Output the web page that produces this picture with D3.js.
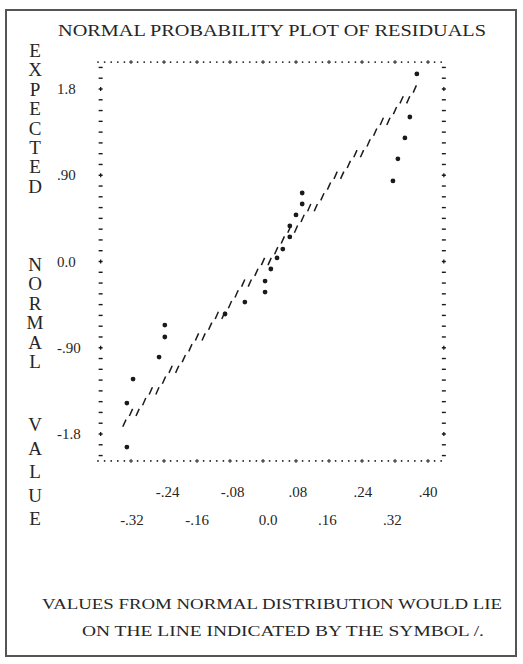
<!DOCTYPE html>
<html>
<head>
<meta charset="utf-8">
<script src="https://cdn.jsdelivr.net/npm/d3@7"></script>
<style>
  html, body { margin: 0; padding: 0; background: #fff; }
  svg { display: block; }
  text { font-family: "Liberation Serif", "DejaVu Serif", serif; fill: #262626; }
</style>
</head>
<body>
<svg id="chart" width="523" height="664"></svg>
<script>
// residuals (x) and their expected normal values (y)
const residuals = [-0.330, -0.330, -0.315, -0.252, -0.238, -0.238, -0.092, -0.044,
  0.005, 0.005, 0.019, 0.034, 0.048, 0.065, 0.065, 0.080, 0.095, 0.095,
  0.315, 0.327, 0.344, 0.356, 0.373];
const expected = [-1.936, -1.477, -1.227, -0.997, -0.788, -0.663, -0.548, -0.423,
  -0.319, -0.204, -0.078, 0.037, 0.130, 0.256, 0.371, 0.486, 0.600, 0.715,
  0.841, 1.071, 1.289, 1.508, 1.957];

// x tick labels are printed on two staggered rows
const xTicksUpper = [-0.24, -0.08, 0.08, 0.24, 0.40];
const xLabelsUpper = ['-.24', '-.08', '.08', '.24', '.40'];
const xTicksLower = [-0.32, -0.16, 0.0, 0.16, 0.32];
const xLabelsLower = ['-.32', '-.16', '0.0', '.16', '.32'];
const yTicks = [1.8, 0.9, 0.0, -0.9, -1.8];
const yLabels = ['1.8', '.90', '0.0', '-.90', '-1.8'];

// reference line drawn with "/": residual = lineMean + lineSd * z
const lineMean = 0.006;
const lineSd = 0.2;
const lineZExtent = [-1.72, 1.86];

const title = 'NORMAL PROBABILITY PLOT OF RESIDUALS';
const yTitleWords = ['EXPECTED', 'NORMAL', 'VALUE'];
const note = ['VALUES FROM NORMAL DISTRIBUTION WOULD LIE', 'ON THE LINE INDICATED BY THE SYMBOL /.'];

const svg = d3.select('#chart');
const ink = '#1a1a1a';

const x = d3.scaleLinear().domain([-0.32, 0.40]).range([131, 428]);
const y = d3.scaleLinear().domain([-1.8, 1.8]).range([434, 89]);
// the printed tick labels sit on a slightly tighter pitch than the plot columns
const xLabel = d3.scaleLinear().domain([-0.32, 0.40]).range([132, 425]);

// line printer grid: 5 columns per x tick, 8 rows per y tick
const colW = (x(0.08) - x(0)) / 5;
const rowUnit = 0.9 / 8;
const rowH = y(0) - y(rowUnit);

const topY = y(0) - 18.5 * rowH;
const bottomY = y(0) + 18.5 * rowH;
const leftX = x(-0.32) - 4.6 * colW;
const rightX = x(0.40) + 2.4 * colW;

// outer frame of the page
svg.append('rect')
  .attr('x', 6).attr('y', 10)
  .attr('width', 510).attr('height', 646)
  .attr('fill', 'none')
  .attr('stroke', '#555')
  .attr('stroke-width', 2);

svg.append('text')
  .attr('x', 272).attr('y', 36)
  .attr('text-anchor', 'middle')
  .attr('font-size', 17)
  .attr('textLength', 428)
  .attr('lengthAdjust', 'spacingAndGlyphs')
  .text(title);

// vertical y title, one letter per line; each word has its own start and pitch
const wordStart = [50, 264, 424];
const wordPitch = [19.4, 19.4, 23.5];
const yTitleLetters = yTitleWords.flatMap((w, wi) =>
  w.split('').map((ch, i) => ({ ch, ly: wordStart[wi] + i * wordPitch[wi] })));

svg.append('g')
  .selectAll('text')
  .data(yTitleLetters)
  .join('text')
    .attr('x', 35)
    .attr('y', d => d.ly + 7)
    .attr('text-anchor', 'middle')
    .attr('font-size', 19)
    .text(d => d.ch);

// dotted top / bottom borders with + at the ticks
const cols = d3.range(-5, 48);
const frame = svg.append('g').attr('fill', ink).attr('stroke', ink);

[topY, bottomY].forEach(by => {
  cols.forEach(k => {
    const cx = x(-0.32) + k * colW;
    if (k % 5 === 0 && k >= 0 && k <= 45) {
      frame.append('path')
        .attr('d', `M${cx - 2},${by}h4M${cx},${by - 2}v4`)
        .attr('stroke-width', 1);
    } else {
      frame.append('circle')
        .attr('cx', cx).attr('cy', by).attr('r', 0.9)
        .attr('stroke', 'none');
    }
  });
});

// dashed left / right borders with + at the ticks
const rows = d3.range(-18, 19);
[leftX, rightX].forEach(bx => {
  rows.forEach(k => {
    const cy = y(k * rowUnit);
    if (k % 8 === 0) {
      frame.append('path')
        .attr('d', `M${bx - 2},${cy}h4M${bx},${cy - 2}v4`)
        .attr('stroke-width', 1.3);
    } else {
      frame.append('path')
        .attr('d', `M${bx - 2},${cy}h4`)
        .attr('stroke-width', 1.4);
    }
  });
});

// y tick labels
svg.append('g')
  .selectAll('text')
  .data(yTicks)
  .join('text')
    .attr('x', 57)
    .attr('y', d => y(d) + 5)
    .attr('font-size', 15)
    .text((d, i) => yLabels[i]);

// x tick labels, two rows
svg.append('g')
  .selectAll('text')
  .data(xTicksUpper)
  .join('text')
    .attr('x', d => xLabel(d) + 3)
    .attr('y', 497)
    .attr('text-anchor', 'middle')
    .attr('font-size', 15)
    .text((d, i) => xLabelsUpper[i]);

svg.append('g')
  .selectAll('text')
  .data(xTicksLower)
  .join('text')
    .attr('x', d => xLabel(d) + (d === 0 ? 6 : 0))
    .attr('y', 525)
    .attr('text-anchor', 'middle')
    .attr('font-size', 15)
    .text((d, i) => xLabelsLower[i]);

// reference line as "/" characters on the printer grid
const slashes = cols
  .map(k => {
    const cx = x(-0.32) + k * colW;
    const z = (x.invert(cx) - lineMean) / lineSd;
    return { cx, z };
  })
  .filter(d => d.z >= lineZExtent[0] && d.z <= lineZExtent[1])
  .map(d => ({ cx: d.cx, cy: y(Math.round(d.z / rowUnit) * rowUnit) }));

svg.append('g')
  .attr('stroke', ink)
  .attr('stroke-width', 1.5)
  .selectAll('line')
  .data(slashes)
  .join('line')
    .attr('x1', d => d.cx - 1.6)
    .attr('y1', d => d.cy + 3.6)
    .attr('x2', d => d.cx + 1.6)
    .attr('y2', d => d.cy - 3.6);

// residual points
svg.append('g')
  .selectAll('circle')
  .data(residuals)
  .join('circle')
    .attr('cx', d => x(d))
    .attr('cy', (d, i) => y(expected[i]))
    .attr('r', 2.4)
    .attr('fill', ink);

svg.append('g')
  .selectAll('text')
  .data(note)
  .join('text')
    .attr('x', (d, i) => (i === 0 ? 272 : 283))
    .attr('y', (d, i) => 609 + i * 27)
    .attr('text-anchor', 'middle')
    .attr('font-size', 15.5)
    .attr('textLength', (d, i) => (i === 0 ? 460 : 402))
    .attr('lengthAdjust', 'spacingAndGlyphs')
    .text(d => d);
</script>
</body>
</html>
